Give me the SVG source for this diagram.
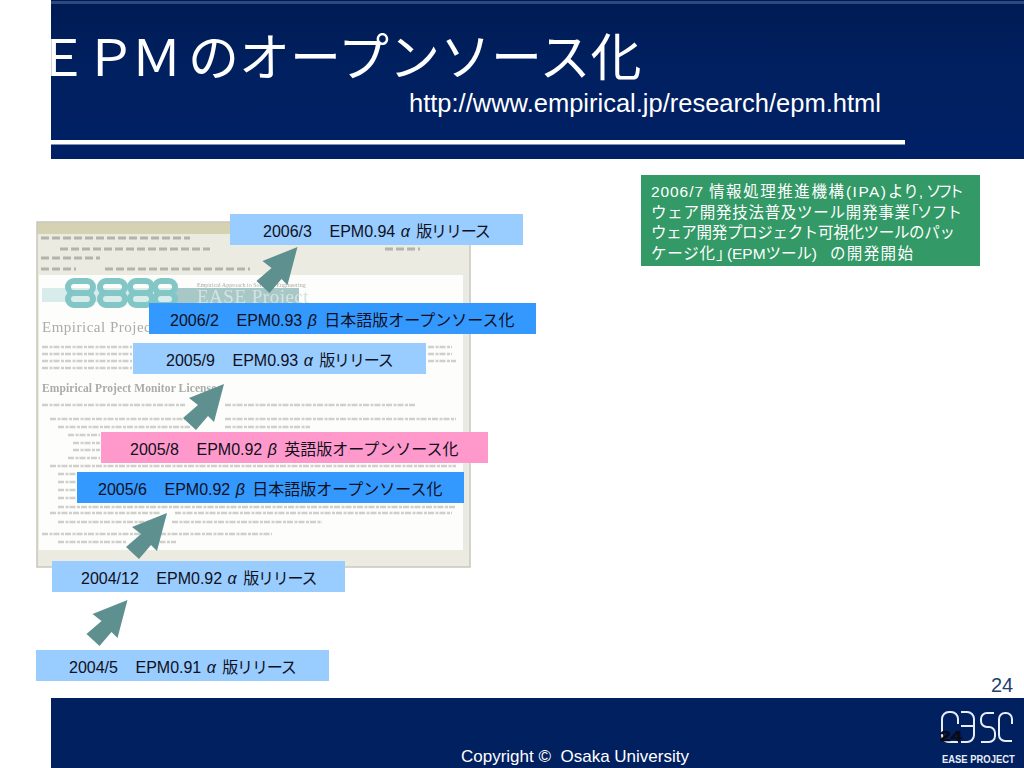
<svg xmlns="http://www.w3.org/2000/svg" width="1024" height="768" viewBox="0 0 1024 768">
<style>
.sans{font-family:"Liberation Sans","Noto Sans CJK JP",sans-serif}
.lbl{font-family:"Liberation Sans","Noto Sans CJK JP",sans-serif;font-size:16px;fill:#10101c}
.gk{font-style:italic}
.kn{letter-spacing:-1.2px}
.grn{font-family:"Liberation Sans","Noto Sans CJK JP",sans-serif;font-size:15.5px;fill:#fff}
.ln{stroke:#d0d0cb;stroke-width:2.6;stroke-dasharray:6 1.5 3 1}
.light{fill:#99ccff}.blue{fill:#3399ff}.pink{fill:#ff99cc}
.arr{fill:#5f9090}
.shot{font-family:"Liberation Serif",serif;fill:#ababa8}
</style>
<defs>
<linearGradient id="hd" x1="0" y1="0" x2="0" y2="1"><stop offset="0" stop-color="#001b54"/><stop offset=".45" stop-color="#002060"/><stop offset="1" stop-color="#002066"/></linearGradient>
<filter id="soft" x="-5%" y="-5%" width="110%" height="110%"><feGaussianBlur stdDeviation="0.6"/></filter>
<polygon id="arrow" points="0,0 -35,14 -26,21 -41,34 -28,46 -16,32 -10,38"/>
</defs>
<rect width="1024" height="768" fill="#fff"/>
<g id="header">
<rect x="51" y="0" width="973" height="159" fill="url(#hd)"/>
<rect x="51" y="1" width="973" height="3" fill="#2c4a80"/>
<text class="sans" x="37 85 131 188" y="76" font-size="51" fill="#fff">ＥＰＭのオープンソース化</text>
<rect x="0" y="30" width="51" height="60" fill="#fff"/>
<text class="sans" x="409" y="112" font-size="25.5" fill="#fff">http://www.empirical.jp/research/epm.html</text>
<rect x="51" y="140" width="854" height="4.5" fill="#fff"/>
</g>
<g id="screenshot">
<rect x="37" y="222" width="433" height="345" fill="#ecebe2"/>
<rect x="37" y="222" width="433" height="12" fill="#d5d2b4"/>
<rect x="39" y="275" width="424" height="275" fill="#fdfdfb"/>
<rect x="463" y="275" width="5" height="275" fill="#e9e9e6"/>
<g filter="url(#soft)">
<g stroke="#b4b4ac" stroke-width="3" stroke-dasharray="8 3" fill="none">
<line x1="41" y1="238" x2="190" y2="238"/><line x1="60" y1="249" x2="210" y2="249"/><line x1="41" y1="258" x2="100" y2="258"/><line x1="41" y1="269" x2="76" y2="269"/><line x1="105" y1="269" x2="250" y2="269"/><line x1="385" y1="249" x2="420" y2="249"/>
</g>
<rect x="42" y="288" width="134" height="14" fill="#d8ecec"/>
<rect x="176" y="288" width="123" height="16" fill="#a8c8c8"/>
<g fill="none" stroke="#82c6c6" stroke-width="6">
<rect x="68" y="281" width="25" height="12" rx="6"/><rect x="68" y="293" width="25" height="12" rx="6"/>
<rect x="100" y="281" width="25" height="12" rx="6"/><rect x="100" y="293" width="25" height="12" rx="6"/>
<rect x="130" y="281" width="22" height="12" rx="6"/><rect x="130" y="293" width="22" height="12" rx="6"/>
<rect x="155" y="281" width="20" height="12" rx="6"/><rect x="155" y="293" width="20" height="12" rx="6"/>
</g>
<text class="shot" x="197" y="303" font-size="19" style="fill:#d4e2e2" letter-spacing=".5">EASE Project</text>
<text class="shot" x="197" y="287" font-size="6">Empirical Approach to Software Engineering</text>
<text class="shot" x="42" y="332" font-size="15" letter-spacing=".5">Empirical Project M</text>
<text class="shot" x="42" y="392" font-size="11.5" letter-spacing=".1" font-weight="bold">Empirical Project Monitor License</text>
<g class="ln">
<line x1="42" y1="347" x2="132" y2="347"/><line x1="42" y1="354" x2="132" y2="354"/><line x1="42" y1="361" x2="132" y2="361"/><line x1="42" y1="368" x2="132" y2="368"/>
<line x1="428" y1="347" x2="452" y2="347"/><line x1="428" y1="354" x2="452" y2="354"/><line x1="428" y1="361" x2="456" y2="361"/>
<line x1="42" y1="405" x2="185" y2="405"/><line x1="225" y1="405" x2="416" y2="405"/>
<line x1="50" y1="419" x2="185" y2="419"/><line x1="225" y1="419" x2="456" y2="419"/>
<line x1="58" y1="427" x2="190" y2="427"/><line x1="225" y1="427" x2="310" y2="427"/>
<line x1="68" y1="435" x2="100" y2="435"/><line x1="73" y1="443" x2="100" y2="443"/><line x1="73" y1="450" x2="100" y2="450"/><line x1="68" y1="458" x2="100" y2="458"/>
<line x1="50" y1="466" x2="456" y2="466"/>
<line x1="58" y1="474" x2="76" y2="474"/><line x1="58" y1="482" x2="76" y2="482"/><line x1="58" y1="490" x2="76" y2="490"/><line x1="58" y1="498" x2="76" y2="498"/>
<line x1="58" y1="507" x2="456" y2="507"/><line x1="50" y1="513" x2="160" y2="513"/><line x1="175" y1="513" x2="452" y2="513"/>
<line x1="58" y1="522" x2="150" y2="522"/><line x1="172" y1="522" x2="322" y2="522"/>
<line x1="42" y1="534" x2="140" y2="534"/><line x1="160" y1="534" x2="272" y2="534"/>
<line x1="58" y1="542" x2="126" y2="542"/><line x1="148" y1="542" x2="176" y2="542"/>
</g>
</g>
<rect x="37" y="222" width="433" height="345" fill="none" stroke="#c8c8bc" stroke-width="1.5"/>
</g>
<g id="connectors" class="arr">
<use href="#arrow" x="297.5" y="247"/>
<use href="#arrow" x="224" y="384"/>
<use href="#arrow" x="167" y="513"/>
<use href="#arrow" x="127.5" y="600"/>
</g>
<g id="node-2006-3"><rect class="light" x="230" y="214" width="293" height="31"/><text class="lbl" x="263" y="237">2006/3　<tspan dx="1.5">EPM0.94</tspan> <tspan class="gk" dx="1">α</tspan> <tspan class="kn" dx="2">版リリース</tspan></text></g>
<g id="node-2006-2"><rect class="blue" x="149" y="303" width="387" height="31"/><text class="lbl" x="170" y="326">2006/2　<tspan dx="1.5">EPM0.93</tspan> <tspan class="gk" dx="1">β</tspan> <tspan dx="3">日本語版オープンソース化</tspan></text></g>
<g id="node-2005-9"><rect class="light" x="133" y="343" width="293" height="31"/><text class="lbl" x="166" y="366">2005/9　<tspan dx="1.5">EPM0.93</tspan> <tspan class="gk" dx="1">α</tspan> <tspan class="kn" dx="2">版リリース</tspan></text></g>
<g id="node-2005-8"><rect class="pink" x="101" y="432" width="387" height="31"/><text class="lbl" x="130" y="455">2005/8　<tspan dx="1.5">EPM0.92</tspan> <tspan class="gk" dx="1">β</tspan> <tspan dx="3">英語版オープンソース化</tspan></text></g>
<g id="node-2005-6"><rect class="blue" x="77" y="472" width="387" height="31"/><text class="lbl" x="98" y="495">2005/6　<tspan dx="1.5">EPM0.92</tspan> <tspan class="gk" dx="1">β</tspan> <tspan dx="3">日本語版オープンソース化</tspan></text></g>
<g id="node-2004-12"><rect class="light" x="52" y="561" width="293" height="31"/><text class="lbl" x="81" y="584">2004/12　<tspan dx="1.5">EPM0.92</tspan> <tspan class="gk" dx="1">α</tspan> <tspan class="kn" dx="2">版リリース</tspan></text></g>
<g id="node-2004-5"><rect class="light" x="36" y="650" width="293" height="31"/><text class="lbl" x="69" y="673">2004/5　<tspan dx="1.5">EPM0.91</tspan> <tspan class="gk" dx="1">α</tspan> <tspan class="kn" dx="2">版リリース</tspan></text></g>
<g id="node-note">
<rect x="641" y="175" width="339" height="91" fill="#339966"/>
<text class="grn" y="197"><tspan x="651" textLength="52">2006/7</tspan> <tspan x="709" textLength="135">情報処理推進機構</tspan><tspan x="846" textLength="40">(IPA)</tspan><tspan x="888">より,</tspan> <tspan x="926" textLength="38">ソフト</tspan></text>
<text class="grn" y="218"><tspan x="651" textLength="259">ウェア開発技法普及ツール開発事業</tspan><tspan x="911">｢</tspan><tspan x="917" textLength="45">ソフト</tspan></text>
<text class="grn" x="651" y="238" textLength="304">ウェア開発プロジェクト可視化ツールのパッ</text>
<text class="grn" y="259"><tspan x="651" textLength="64">ケージ化</tspan><tspan x="716">｣</tspan><tspan x="727" textLength="90">(EPMツール)</tspan> <tspan x="830" textLength="83">の開発開始</tspan></text>
</g>
<g id="footer">
<text class="sans" x="991" y="692" font-size="20" fill="#1f3f70">24</text>
<rect x="51" y="698" width="973" height="70" fill="#002060"/>
<text class="sans" x="461" y="762" font-size="17" fill="#fff" xml:space="preserve">Copyright ©  Osaka University</text>
<g fill="none" stroke="#e8eef8" stroke-width="2">
<path d="M958 724v-5a7 7 0 0 0-7-7h-2a7 7 0 0 0-7 7v16a7 7 0 0 0 7 7h9"/>
<path d="M961 712h6a7 7 0 0 1 7 7v16a7 7 0 0 1-7 7h-6M961 726h13"/>
<path d="M994 713h-7a6 6 0 0 0-6 6v2a6 6 0 0 0 6 6h2a6 6 0 0 1 6 6v3a6 6 0 0 1-6 6h-8"/>
<path d="M1012 724v-5a6 6 0 0 0-6-6h-1a6 6 0 0 0-6 6v16a6 6 0 0 0 6 6h7"/>
</g>
<text class="sans" transform="translate(942 763) scale(.82 1)" font-size="11.5" font-weight="bold" fill="#e8eef8">EASE PROJECT</text>
<text class="sans" x="940" y="741" font-size="15" font-weight="bold" fill="#0a0a14" stroke="#0a0a14" stroke-width=".6" textLength="22" lengthAdjust="spacingAndGlyphs">24</text>
</g>
</svg>
